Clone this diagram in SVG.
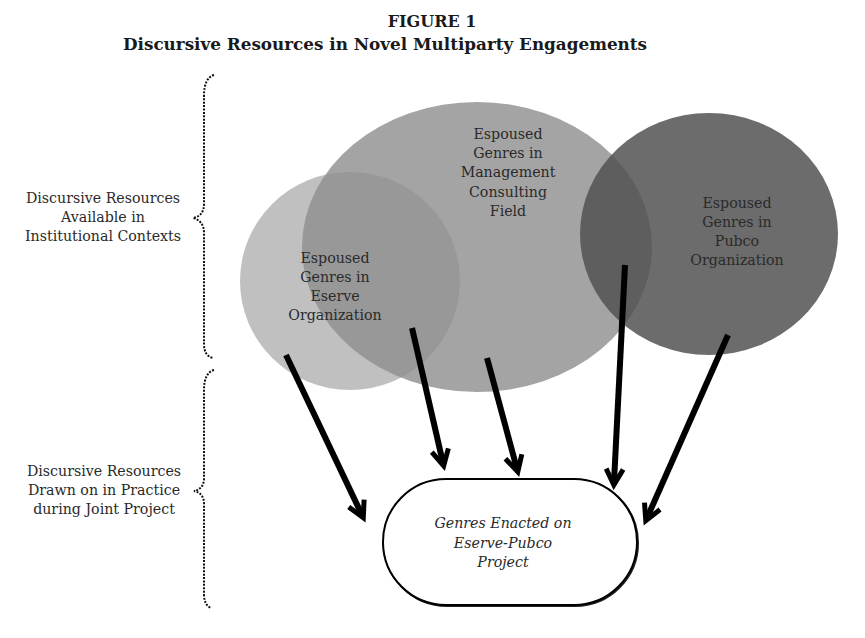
<svg xmlns="http://www.w3.org/2000/svg" width="865" height="638" viewBox="0 0 865 638">
  <style>
    .title { font-family: "DejaVu Serif", "Liberation Serif", serif; font-weight: bold; fill: #1a1a1a; text-anchor: middle; }
    .lbl { font-family: "DejaVu Serif", "Liberation Serif", serif; font-size: 14.2px; fill: #2a2a2a; text-anchor: middle; }
    .ital { font-style: italic; }
    .brace { fill: none; stroke: #111; stroke-width: 2; stroke-dasharray: 2 1.4; }
    .arrow { fill: none; stroke: #000; stroke-width: 6; marker-end: url(#head); }
  </style>
  <defs>
    <marker id="head" markerUnits="userSpaceOnUse" markerWidth="40" markerHeight="40" viewBox="-20 -20 40 40" refX="0" refY="0" orient="auto">
      <path d="M-13,-8.5 L3,0 L-13,8.5" fill="none" stroke="#000" stroke-width="5" stroke-linejoin="miter"/>
    </marker>
  </defs>
  <rect width="865" height="638" fill="#fff"/>

  <text class="title" x="432" y="27" font-size="16">FIGURE 1</text>
  <text class="title" x="385" y="50" font-size="16" textLength="524" lengthAdjust="spacingAndGlyphs">Discursive Resources in Novel Multiparty Engagements</text>

  <!-- side labels with dotted braces -->
  <g id="available">
    <path class="brace" d="M214,75 Q204,78 204,96 L204,204 Q204,216 193,218 Q204,221 204,233 L204,344 Q204,356 213,358"/>
    <text class="lbl"><tspan x="103" y="203">Discursive Resources</tspan><tspan x="103" y="222">Available in</tspan><tspan x="103" y="241">Institutional Contexts</tspan></text>
  </g>
  <g id="drawn-on">
    <path class="brace" d="M214,370 Q204,373 204,390 L204,478 Q204,489 194,491 Q204,493 204,504 L204,594 Q204,605 211,608"/>
    <text class="lbl"><tspan x="104" y="476">Discursive Resources</tspan><tspan x="104" y="495">Drawn on in Practice</tspan><tspan x="104" y="514">during Joint Project</tspan></text>
  </g>

  <!-- genre sources -->
  <g id="eserve">
    <ellipse cx="350" cy="281" rx="110" ry="109" fill="#c0c0c0"/>
  </g>
  <g id="management">
    <ellipse cx="477" cy="247" rx="175" ry="145" fill="#8f8f8f" fill-opacity="0.81"/>
  </g>
  <g id="pubco">
    <ellipse cx="709" cy="234" rx="129" ry="121" fill="#515151" fill-opacity="0.845"/>
  </g>
  <text class="lbl"><tspan x="335" y="263">Espoused</tspan><tspan x="335" y="282">Genres in</tspan><tspan x="335" y="301">Eserve</tspan><tspan x="335" y="320">Organization</tspan></text>
  <text class="lbl"><tspan x="508" y="139">Espoused</tspan><tspan x="508" y="158">Genres in</tspan><tspan x="508" y="177">Management</tspan><tspan x="508" y="197">Consulting</tspan><tspan x="508" y="216">Field</tspan></text>
  <text class="lbl"><tspan x="737" y="208">Espoused</tspan><tspan x="737" y="227">Genres in</tspan><tspan x="737" y="246">Pubco</tspan><tspan x="737" y="265">Organization</tspan></text>

  <!-- enacted genres -->
  <g id="project">
    <rect x="384" y="480" width="254" height="126" rx="63" fill="none" stroke="#222" stroke-width="2"/>
    <rect x="383" y="479" width="254" height="126" rx="63" fill="#fff" stroke="#000" stroke-width="2"/>
    <text class="lbl ital"><tspan x="503" y="528">Genres Enacted on</tspan><tspan x="503" y="548">Eserve-Pubco</tspan><tspan x="503" y="567">Project</tspan></text>
  </g>

  <g id="connectors">
    <line class="arrow" x1="286" y1="355" x2="362" y2="515"/>
    <line class="arrow" x1="412" y1="328" x2="443" y2="463"/>
    <line class="arrow" x1="487" y1="358" x2="517" y2="469"/>
    <line class="arrow" x1="625" y1="265" x2="614" y2="482"/>
    <line class="arrow" x1="728" y1="335" x2="647" y2="518"/>
  </g>
</svg>
